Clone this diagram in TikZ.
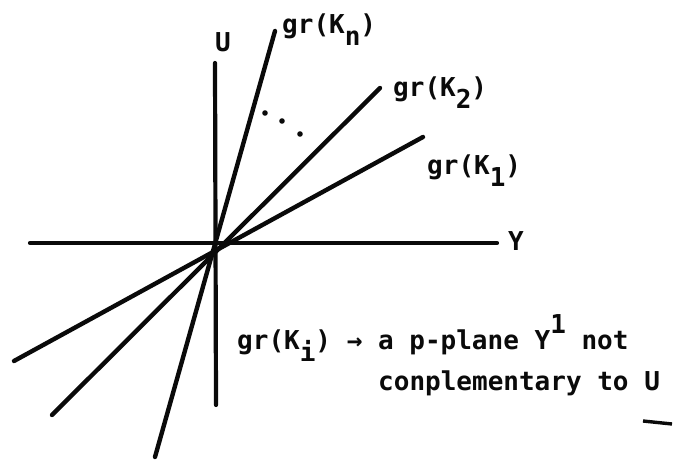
\documentclass[tikz,border=0pt]{standalone}
\usepackage{fontspec}
\setmonofont{DejaVu Sans Mono}
\usetikzlibrary{positioning}
\definecolor{inkDark}{HTML}{0A0A0A}
\newcommand{\lowch}[1]{\raisebox{-12pt}{#1}}
\newcommand{\highch}[1]{\raisebox{16pt}{#1}}

\begin{document}
\begin{tikzpicture}[x=1pt, y=-1pt,
    ax/.style={draw=inkDark, line width=4.2pt, line cap=round},
    gr/.style={draw=inkDark, line width=4.4pt, line cap=round},
    lbl/.style={anchor=base west, inner sep=0pt, text=inkDark,
                font=\ttfamily\bfseries\fontsize{26}{30}\selectfont},
  ]
  \useasboundingbox (0,0) rectangle (673,462);

  % axes
  \coordinate (y-lo) at (30,243);
  \coordinate (y-hi) at (497,243);
  \coordinate (u-lo) at (216,405);
  \coordinate (u-hi) at (215,63);
  \draw[ax] (y-lo) -- (y-hi);
  \draw[ax] (u-lo) -- (u-hi);

  % graphs through the origin
  \coordinate (k1-lo) at (14,361);
  \coordinate (k1-hi) at (423,137);
  \coordinate (k2-lo) at (52,415);
  \coordinate (k2-hi) at (380,88);
  \coordinate (kn-lo) at (155,457);
  \coordinate (kn-hi) at (275,31);
  \draw[gr] (k1-lo) -- (k1-hi);
  \draw[gr] (k2-lo) -- (k2-hi);
  \draw[gr] (kn-lo) -- (kn-hi);

  \foreach \px/\py in {265/113, 282/121, 300/134}
    \fill[inkDark] (\px,\py) circle (2.8pt);

  \node[lbl] (lblU) at (215,52) {U};
  \node[lbl] (lblY) at (508,251) {Y};
  \node[lbl] (lblKn) at (282,34) {gr(K\lowch{n})};
  \node[lbl] (lblK2) at (393,97) {gr(K\lowch{2})};
  \node[lbl] (lblK1) at (427,175) {gr(K\lowch{1})};

  \node[lbl] (note1) at (237,350)
    {gr(K\lowch{i}) → a p-plane Y\highch{1} not};
  \node[lbl] (note2) at (378,391) {conplementary to U};
  \coordinate (ul-a) at (643,421);
  \coordinate (ul-b) at (672,424);
  \draw[inkDark, line width=3.4pt] (ul-a) -- (ul-b);
\end{tikzpicture}
\end{document}
